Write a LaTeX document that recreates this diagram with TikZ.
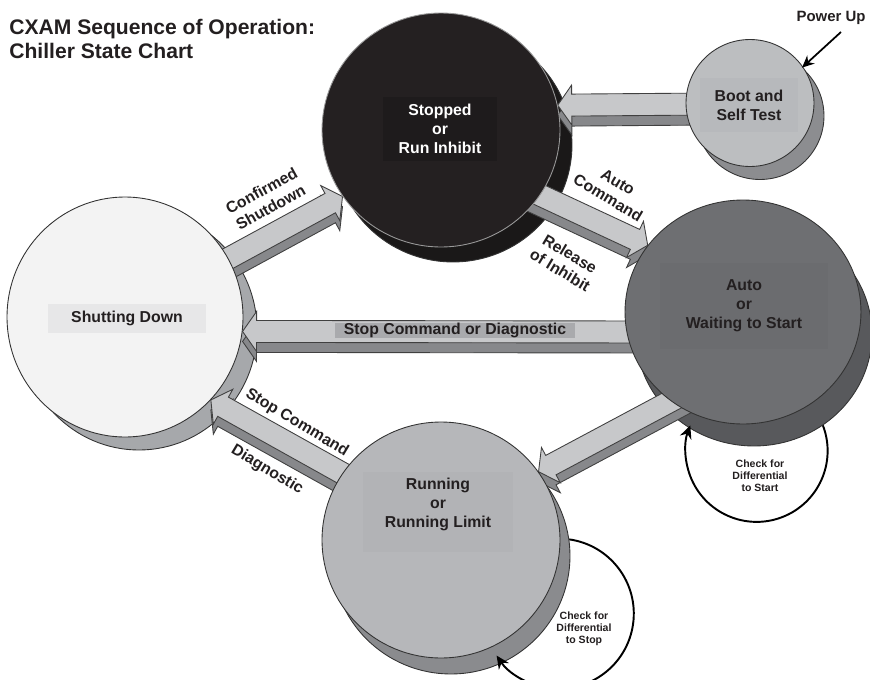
\documentclass[tikz,border=0pt]{standalone}
\usepackage{fontspec}
\setmainfont{Liberation Sans}
\usetikzlibrary{calc,shapes.geometric,arrows.meta}

\pgfdeclarelayer{discshadow}
\pgfdeclarelayer{blockarrows}
\pgfsetlayers{discshadow,blockarrows,main}

\newcommand{\blockarrow}[2]{%
  \coordinate (hb) at ($(#2)!0.28cm!(#1)$);
  \foreach \arrowfill/\arrowdrop in {arrowdark/-0.2cm, arrowlight/0cm} {
    \filldraw[fill=\arrowfill, draw=black!75, line width=0.5pt, transform canvas={yshift=\arrowdrop}]
      ($(#1)!0.22cm!90:(#2)$) -- ($(hb)!0.22cm!-90:(#1)$) -- ($(hb)!0.4cm!-90:(#1)$) -- (#2)
      -- ($(hb)!0.4cm!90:(#1)$) -- ($(hb)!0.22cm!90:(#1)$) -- ($(#1)!0.22cm!-90:(#2)$) -- cycle;
  }%
}

\begin{document}
\begin{tikzpicture}[x=0.02cm, y=-0.02cm,
  every node/.style={font=\fontsize{9}{10.8}\selectfont\bfseries, text=ink},
  disc/.style={ellipse, draw=black!80, line width=0.5pt, inner sep=0pt},
  statebox/.style={inner sep=0pt, align=center},
  looparrow/.style={line width=1.1pt, -{Stealth[length=2.6mm, width=2.4mm]}},
  smalltext/.style={font=\fontsize{6}{6.8}\selectfont\bfseries, align=center}]

\definecolor{stopfront}{RGB}{36,32,33}
\definecolor{stopdark}{RGB}{26,24,24}
\definecolor{stopbox}{RGB}{30,27,28}
\definecolor{bootfront}{RGB}{188,190,192}
\definecolor{bootdark}{RGB}{140,141,144}
\definecolor{bootbox}{RGB}{183,185,188}
\definecolor{autofront}{RGB}{110,111,114}
\definecolor{autodark}{RGB}{88,89,92}
\definecolor{autobox}{RGB}{107,108,111}
\definecolor{shutfront}{RGB}{243,243,243}
\definecolor{shutdark}{RGB}{166,168,171}
\definecolor{shutbox}{RGB}{231,231,232}
\definecolor{runfront}{RGB}{182,183,186}
\definecolor{rundark}{RGB}{138,139,142}
\definecolor{runbox}{RGB}{178,179,182}
\definecolor{arrowlight}{RGB}{199,200,202}
\definecolor{arrowdark}{RGB}{135,136,139}
\definecolor{lblbox}{RGB}{169,170,173}
\definecolor{ink}{RGB}{35,31,32}

\useasboundingbox (0,0) rectangle (870,680);

% discs, front faces
\node[disc, fill=stopfront, draw=black!40, minimum width=4.76cm, minimum height=4.68cm] (stopdisc) at (441,130) {};
\node[disc, fill=bootfront, minimum width=2.56cm, minimum height=2.54cm] (bootdisc) at (750,103) {};
\node[disc, fill=autofront, minimum width=4.72cm, minimum height=4.48cm] (autodisc) at (743,312) {};
\node[disc, fill=shutfront, minimum width=4.72cm, minimum height=4.8cm] (shutdisc) at (125,317) {};
\node[disc, fill=runfront, minimum width=4.76cm, minimum height=4.72cm] (rundisc) at (441,540) {};

% discs, dark sides
\begin{pgfonlayer}{discshadow}
\node[disc, fill=stopdark, minimum width=4.76cm, minimum height=4.68cm] (stopshadow) at ([shift={(12,15)}]stopdisc.center) {};
\node[disc, fill=bootdark, minimum width=2.56cm, minimum height=2.54cm] (bootshadow) at ([shift={(10,13)}]bootdisc.center) {};
\node[disc, fill=autodark, minimum width=4.72cm, minimum height=4.48cm] (autoshadow) at ([shift={(11,22)}]autodisc.center) {};
\node[disc, fill=shutdark, minimum width=4.72cm, minimum height=4.8cm] (shutshadow) at ([shift={(14,13)}]shutdisc.center) {};
\node[disc, fill=rundark, minimum width=4.76cm, minimum height=4.72cm] (runshadow) at ([shift={(10,16)}]rundisc.center) {};
\end{pgfonlayer}

% state names
\node[statebox, fill=stopbox, text=white, minimum width=2.3cm, minimum height=1.28cm] (stop) at (440,129) {Stopped\\or\\Run Inhibit};
\node[statebox, fill=bootbox, minimum width=1.98cm, minimum height=1.1cm] (boot) at (749,105) {Boot and\\Self Test};
\node[statebox, fill=autobox, minimum width=3.36cm, minimum height=1.74cm] (auto) at (744,306) {Auto\\or\\Waiting to Start};
\node[statebox, fill=shutbox, minimum width=3.16cm, minimum height=0.58cm] (shut) at (127,318) {Shutting Down};
\node[fill=runbox, minimum width=3cm, minimum height=1.62cm] (runbg) at (438,512) {};
\node[statebox] (run) at (438,504) {Running\\or\\Running Limit};

% transitions
\begin{pgfonlayer}{blockarrows}
\coordinate (bootout) at (710,104);
\coordinate (stopout) at (512,182);
\coordinate (shutout) at (207,270);
\coordinate (autoout) at (655,332);
\coordinate (autorun) at (699,386);
\coordinate (runout) at (367,487);
\blockarrow{bootout}{stopdisc.12}
\blockarrow{stopout}{autodisc.145}
\blockarrow{shutout}{stopdisc.214}
\blockarrow{autoout}{shutdisc.-7}
\blockarrow{autorun}{rundisc.35}
\blockarrow{runout}{shutdisc.-44}
\end{pgfonlayer}

\node[rotate=29, align=center] (conflbl) at (266,199) {Confirmed\\Shutdown};
\node[rotate=-31, align=center] (autolbl) at (613,190) {Auto\\Command};
\node[rotate=-31, align=center] (rellbl) at (565,262) {Release\\of Inhibit};
\node[fill=lblbox, inner sep=0pt, minimum width=4.82cm, minimum height=0.3cm] (stoplbl) at (455,330) {Stop Command or Diagnostic};
\node[rotate=-31] (stopcmdlbl) at (297,423) {Stop Command};
\node[rotate=-31] (diaglbl) at (267,470) {Diagnostic};

% self loops
\draw[looparrow] (autoshadow.-53) arc[start angle=-21, end angle=201, radius=71];
\node[smalltext] (chkstart) at (760,476) {Check for\\Differential\\to Start};
\draw[looparrow] (runshadow.8) arc[start angle=-82, end angle=146, radius=75];
\node[smalltext] (chkstop) at (584,629) {Check for\\Differential\\to Stop};

% power up
\node[font=\fontsize{8.5}{10}\selectfont\bfseries] (pwr) at (831,18) {Power Up};
\draw[line width=1pt, -{Stealth[length=2.4mm, width=2.2mm]}] ([shift={(10,14)}]pwr.center) -- (bootshadow.49);

\node[anchor=north west, align=left, inner sep=0pt, font=\fontsize{12}{13.6}\selectfont\bfseries] (title) at (9,19) {CXAM Sequence of Operation:\\Chiller State Chart};

\end{tikzpicture}
\end{document}
